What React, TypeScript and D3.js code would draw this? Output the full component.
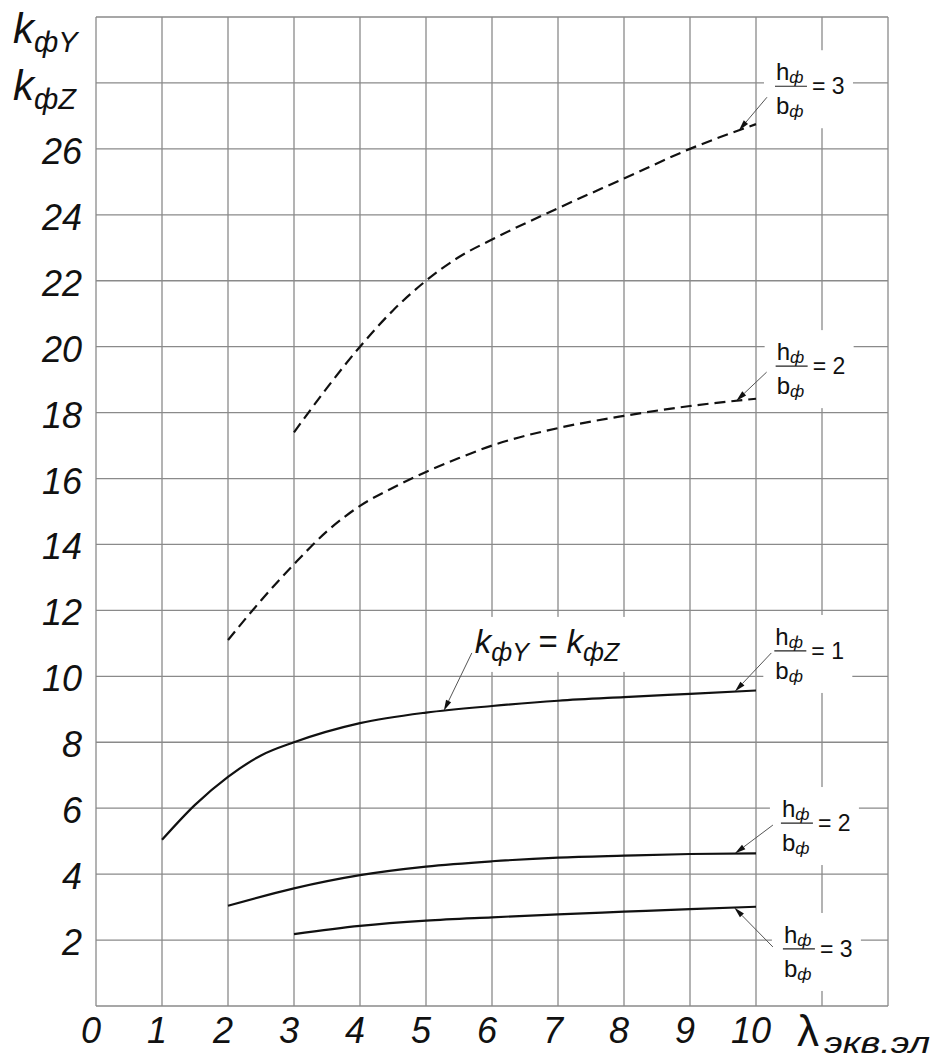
import * as d3 from "d3";
import { useEffect } from "react";

const width = 938;
const height = 1060;
const font = "'Liberation Sans', Arial, sans-serif";

// curves: lambda (x) and k (y)
const lamDash3 = [3, 3.5, 4, 4.5, 5, 5.5, 6, 7, 8, 9, 10];
const kDash3 = [17.4, 18.75, 20.0, 21.1, 22.0, 22.72, 23.25, 24.2, 25.1, 26.0, 26.75];

const lamDash2 = [2, 2.5, 3, 3.5, 4, 4.5, 5, 5.5, 6, 7, 8, 9, 10];
const kDash2 = [11.1, 12.3, 13.4, 14.4, 15.17, 15.72, 16.2, 16.62, 17.0, 17.53, 17.9, 18.2, 18.42];

const lamSolid1 = [1, 1.5, 2, 2.5, 3, 4, 5, 6, 7, 8, 9, 10];
const kSolid1 = [5.04, 6.1, 6.95, 7.6, 8.0, 8.58, 8.9, 9.1, 9.26, 9.37, 9.47, 9.57];

const lamSolid2 = [2, 3, 4, 5, 6, 7, 8, 9, 10];
const kSolid2 = [3.04, 3.57, 3.97, 4.23, 4.39, 4.5, 4.56, 4.61, 4.63];

const lamSolid3 = [3, 4, 5, 6, 7, 8, 9, 10];
const kSolid3 = [2.18, 2.43, 2.59, 2.69, 2.78, 2.86, 2.94, 3.01];

const xTicks = [0, 1, 2, 3, 4, 5, 6, 7, 8, 9, 10];
const yTicks = [2, 4, 6, 8, 10, 12, 14, 16, 18, 20, 22, 24, 26];
const xGrid = d3.range(0, 13);
const yGrid = d3.range(0, 31, 2);

type Series = { lam: number[]; k: number[]; dashed: boolean };
const series: Series[] = [
  { lam: lamDash3, k: kDash3, dashed: true },
  { lam: lamDash2, k: kDash2, dashed: true },
  { lam: lamSolid1, k: kSolid1, dashed: false },
  { lam: lamSolid2, k: kSolid2, dashed: false },
  { lam: lamSolid3, k: kSolid3, dashed: false },
];

// h/b labels: which curve, label place (lambda, k), ratio, leader tip lambda
const fracLabels = [
  { s: 0, lam: 10.53, k: 27.9, n: "3", tip: 9.74, dx: -24, dy: 11 },
  { s: 1, lam: 10.54, k: 19.41, n: "2", tip: 9.7, dx: -25, dy: 6 },
  { s: 2, lam: 10.52, k: 10.77, n: "1", tip: 9.68, dx: -19, dy: 2 },
  { s: 3, lam: 10.62, k: 5.55, n: "2", tip: 9.68, dx: -24, dy: 2 },
  { s: 4, lam: 10.65, k: 1.73, n: "3", tip: 9.67, dx: -26, dy: -2 },
];

function valAt(xs: number[], ys: number[], v: number) {
  const i = Math.max(1, d3.bisectLeft(xs, v));
  const t = (v - xs[i - 1]) / (xs[i] - xs[i - 1]);
  return ys[i - 1] + t * (ys[i] - ys[i - 1]);
}

function Leader({ sx, sy, tx, ty }: { sx: number; sy: number; tx: number; ty: number }) {
  const len = Math.hypot(tx - sx, ty - sy);
  const ux = (tx - sx) / len;
  const uy = (ty - sy) / len;
  const bx = tx - ux * 11;
  const by = ty - uy * 11;
  const px = -uy * 2.8;
  const py = ux * 2.8;
  return (
    <g>
      <line x1={sx} y1={sy} x2={bx} y2={by} stroke="#555" strokeWidth={1} />
      <path d={`M${tx},${ty}L${bx + px},${by + py}L${bx - px},${by - py}Z`} fill="#111" />
    </g>
  );
}

function Frac({ cx, by, n }: { cx: number; by: number; n: string }) {
  return (
    <g fontFamily={font} fill="#111">
      <text x={cx - 15} y={by - 6} fontSize={24}>
        h<tspan fontSize={17} fontStyle="italic" dy={3}>ф</tspan>
      </text>
      <line x1={cx - 16} x2={cx + 16} y1={by} y2={by} stroke="#222" strokeWidth={1.2} />
      <text x={cx - 15} y={by + 28} fontSize={24}>
        b<tspan fontSize={17} fontStyle="italic" dy={3}>ф</tspan>
      </text>
      <text x={cx + 21} y={by + 8} fontSize={23}>= {n}</text>
    </g>
  );
}

export default function App() {
  useEffect(() => {
    document.body.style.margin = "0";
  }, []);

  const x = d3.scaleLinear().domain([0, 12]).range([96, 888]);
  const y = d3.scaleLinear().domain([0, 30]).range([1006, 17]);

  const pathFor = (s: Series) =>
    d3
      .line<number>()
      .x((d) => x(d))
      .y((_, i) => y(s.k[i]))
      .curve(d3.curveMonotoneX)(s.lam) || "";

  // k label near curve 1
  const kLabX = x(5.74);
  const kLabY = y(10.71);
  const kTipX = x(5.27);
  const kTipY = y(valAt(lamSolid1, kSolid1, 5.27));

  return (
    <svg
      width={width}
      height={height}
      style={{ position: "absolute", left: 0, top: 0, background: "#fff" }}
    >
      <rect width={width} height={height} fill="#fff" />
      {/* grid */}
      <g stroke="#8a8a8a" strokeWidth={1.3}>
        {xGrid.map((v) => (
          <line key={"vx" + v} x1={x(v)} x2={x(v)} y1={y(0)} y2={y(30)} />
        ))}
        {yGrid.map((v) => (
          <line key={"hy" + v} x1={x(0)} x2={x(12)} y1={y(v)} y2={y(v)} />
        ))}
      </g>

      {/* white backgrounds behind labels */}
      <g fill="#fff">
        {fracLabels.map((f, i) => (
          <rect key={i} x={x(f.lam) - 27} y={y(f.k) - 36} width={89} height={78} />
        ))}
        <rect x={kLabX - 6} y={kLabY - 36} width={174} height={55} />
      </g>

      {/* curves */}
      <g fill="none" stroke="#111" strokeWidth={2.2}>
        {series.map((s, i) => (
          <path key={i} d={pathFor(s)} strokeDasharray={s.dashed ? "11 6" : undefined} />
        ))}
      </g>

      {/* leaders and labels */}
      {fracLabels.map((f, i) => {
        const s = series[f.s];
        const cx = x(f.lam);
        const by = y(f.k);
        return (
          <g key={i}>
            <Leader sx={cx + f.dx} sy={by + f.dy} tx={x(f.tip)} ty={y(valAt(s.lam, s.k, f.tip))} />
            <Frac cx={cx} by={by} n={f.n} />
          </g>
        );
      })}
      <Leader sx={kLabX - 3} sy={kLabY} tx={kTipX} ty={kTipY} />
      <text x={kLabX} y={kLabY} fontFamily={font} fontStyle="italic" fontSize={33} fill="#111">
        k<tspan fontSize={25} dy={8}>фY</tspan>
        <tspan fontSize={33} dy={-8}> = k</tspan>
        <tspan fontSize={25} dy={8}>фZ</tspan>
      </text>

      {/* y axis labels */}
      <g fontFamily={font} fontStyle="italic" fontSize={36} fill="#111" textAnchor="end">
        {yTicks.map((v) => (
          <text key={v} x={82} y={y(v) + 15}>
            {v}
          </text>
        ))}
      </g>
      <g fontFamily={font} fontStyle="italic" fill="#111">
        <text x={13} y={43} fontSize={42}>
          k<tspan fontSize={29} dy={9}>фY</tspan>
        </text>
        <text x={13} y={100} fontSize={42}>
          k<tspan fontSize={29} dy={9}>фZ</tspan>
        </text>
      </g>

      {/* x axis labels */}
      <g fontFamily={font} fontStyle="italic" fontSize={36} fill="#111" textAnchor="middle">
        {xTicks.map((v) => (
          <text key={v} x={x(v) - 5} y={1043}>
            {v}
          </text>
        ))}
      </g>
      <text x={797} y={1046} fontFamily={font} fontSize={44} fill="#111">
        λ
      </text>
      <text
        x={824}
        y={1053}
        fontFamily={font}
        fontStyle="italic"
        fontSize={30}
        fill="#111"
        textLength={106}
        lengthAdjust="spacingAndGlyphs"
      >
        экв.эл
      </text>
    </svg>
  );
}
